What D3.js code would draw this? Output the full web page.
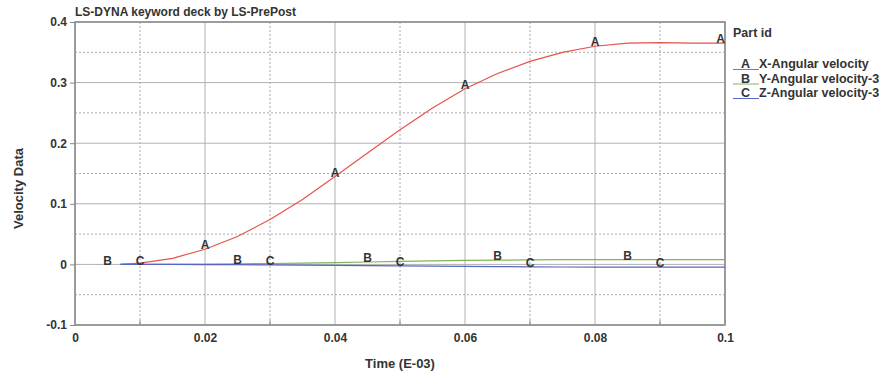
<!DOCTYPE html>
<html>
<head>
<meta charset="utf-8">
<script src="https://cdn.jsdelivr.net/npm/d3@7"></script>
<style>
  body { margin: 0; background: #fff; }
  text { font-family: "Liberation Sans", Arial, sans-serif; font-weight: bold; fill: #333; }
</style>
</head>
<body>
<div id="viz"></div>
<script>
// time (E-03) samples and series
const times = [0.007, 0.01, 0.015, 0.02, 0.025, 0.03, 0.035, 0.04, 0.045, 0.05,
               0.055, 0.06, 0.065, 0.07, 0.075, 0.08, 0.085, 0.09, 0.095, 0.1];
const seriesA = [0, 0.002, 0.01, 0.025, 0.046, 0.074, 0.107, 0.145, 0.184, 0.222,
                 0.258, 0.29, 0.315, 0.335, 0.35, 0.36, 0.365, 0.366, 0.365, 0.365];
const seriesB = [0, 0, 0.0002, 0.0005, 0.001, 0.0015, 0.002, 0.003, 0.004, 0.005,
                 0.0058, 0.0065, 0.007, 0.0075, 0.0078, 0.008, 0.008, 0.008, 0.008, 0.008];
const seriesC = [0, 0, -0.0001, -0.0003, -0.0005, -0.0008, -0.0011, -0.0015, -0.002, -0.0025,
                 -0.0028, -0.0032, -0.0036, -0.004, -0.0043, -0.0045, -0.0045, -0.0045, -0.0045, -0.0045];

const seriesNames = ['X-Angular velocity', 'Y-Angular velocity-3', 'Z-Angular velocity-3'];
const seriesIds = ['A', 'B', 'C'];
const seriesColors = ['#e5534b', '#7fb45a', '#5566c4'];
const labelTimes = [
  [0.02, 0.04, 0.06, 0.08, 0.1],
  [0.005, 0.025, 0.045, 0.065, 0.085],
  [0.01, 0.03, 0.05, 0.07, 0.09]
];

const xMajor = [0, 0.02, 0.04, 0.06, 0.08, 0.1];
const xMinor = [0.01, 0.03, 0.05, 0.07, 0.09];
const yMajor = [-0.1, 0, 0.1, 0.2, 0.3, 0.4];
const yMinor = [-0.05, 0.05, 0.15, 0.25, 0.35];

const width = 893, height = 379;
const margin = { left: 75, right: 168, top: 22, bottom: 54 };

const svg = d3.select('#viz').append('svg')
  .attr('width', width)
  .attr('height', height);

const x = d3.scaleLinear().domain([0, 0.1]).range([margin.left, width - margin.right]);
const y = d3.scaleLinear().domain([-0.1, 0.4]).range([height - margin.bottom, margin.top]);

const fmt = d => d === 0 ? '0' : d3.format('~g')(d).replace('\u2212', '-');

// minor grid (dotted)
svg.append('g').selectAll('line')
  .data(xMinor).join('line')
  .attr('x1', d => x(d)).attr('x2', d => x(d))
  .attr('y1', y(0.4)).attr('y2', y(-0.1))
  .attr('stroke', '#aaa').attr('stroke-dasharray', '2,2');

svg.append('g').selectAll('line')
  .data(yMinor).join('line')
  .attr('x1', x(0)).attr('x2', x(0.1))
  .attr('y1', d => y(d)).attr('y2', d => y(d))
  .attr('stroke', '#aaa').attr('stroke-dasharray', '2,2');

// major grid (solid)
svg.append('g').selectAll('line')
  .data(xMajor).join('line')
  .attr('x1', d => x(d)).attr('x2', d => x(d))
  .attr('y1', y(0.4)).attr('y2', y(-0.1))
  .attr('stroke', '#b0b0b0');

svg.append('g').selectAll('line')
  .data(yMajor).join('line')
  .attr('x1', x(0)).attr('x2', x(0.1))
  .attr('y1', d => y(d)).attr('y2', d => y(d))
  .attr('stroke', '#b0b0b0');

// frame
svg.append('rect')
  .attr('x', x(0)).attr('y', y(0.4))
  .attr('width', x(0.1) - x(0)).attr('height', y(-0.1) - y(0.4))
  .attr('fill', 'none').attr('stroke', '#888').attr('stroke-width', 1.5);

// axes
svg.append('g')
  .attr('transform', `translate(0,${y(-0.1)})`)
  .call(d3.axisBottom(x).tickValues(xMajor).tickSize(0).tickPadding(8).tickFormat(fmt))
  .call(g => g.select('.domain').remove())
  .call(g => g.selectAll('text').style('font-size', '12px').attr('fill', '#333'));

svg.append('g')
  .attr('transform', `translate(${x(0)},0)`)
  .call(d3.axisLeft(y).tickValues(yMajor).tickSize(5).tickPadding(3).tickFormat(fmt))
  .call(g => g.select('.domain').remove())
  .call(g => g.selectAll('line').attr('stroke', '#888'))
  .call(g => g.selectAll('text').style('font-size', '12px').attr('fill', '#333'));

// minor ticks on bottom
svg.append('g').selectAll('line')
  .data(xMinor).join('line')
  .attr('x1', d => x(d)).attr('x2', d => x(d))
  .attr('y1', y(-0.1) - 5).attr('y2', y(-0.1))
  .attr('stroke', '#888');

// titles
svg.append('text')
  .attr('x', x(0)).attr('y', 16)
  .style('font-size', '12px')
  .text('LS-DYNA keyword deck by LS-PrePost');

svg.append('text')
  .attr('x', (x(0) + x(0.1)) / 2).attr('y', 368)
  .attr('text-anchor', 'middle')
  .style('font-size', '13px')
  .text('Time (E-03)');

svg.append('text')
  .attr('transform', `translate(23,${(y(0.4) + y(-0.1)) / 2 + 15}) rotate(-90)`)
  .attr('text-anchor', 'middle')
  .style('font-size', '13px')
  .text('Velocity Data');

// curves
const allSeries = [seriesA, seriesB, seriesC];
const line = d3.line()
  .x((d, i) => x(times[i]))
  .y(d => y(d));

allSeries.forEach((s, k) => {
  svg.append('path')
    .datum(s)
    .attr('fill', 'none')
    .attr('stroke', seriesColors[k])
    .attr('stroke-width', 1.2)
    .attr('d', line);
});

// letter markers along curves
function valueAt(s, t) {
  if (t <= times[0]) return s[0];
  const i = d3.bisectLeft(times, t);
  if (i >= times.length) return s[s.length - 1];
  const t0 = times[i - 1], t1 = times[i];
  return s[i - 1] + (s[i] - s[i - 1]) * (t - t0) / (t1 - t0);
}

allSeries.forEach((s, k) => {
  svg.append('g').selectAll('text')
    .data(labelTimes[k]).join('text')
    .attr('x', d => x(d))
    .attr('y', d => y(valueAt(s, d)) - 3)
    .attr('text-anchor', d => d === 0.1 ? 'end' : 'middle')
    .attr('dominant-baseline', 'middle')
    .style('font-size', '12px')
    .text(seriesIds[k]);
});

// legend
const lx = 733;
svg.append('text')
  .attr('x', lx).attr('y', 37)
  .style('font-size', '12.5px')
  .text('Part id');

const legend = svg.append('g').selectAll('g')
  .data(seriesNames).join('g')
  .attr('transform', (d, i) => `translate(${lx},${68 + i * 14.5})`);

legend.append('line')
  .attr('x1', 0).attr('x2', 26)
  .attr('y1', 1.5).attr('y2', 1.5)
  .attr('stroke', (d, i) => seriesColors[i]);

legend.append('text')
  .attr('x', 8).attr('y', 0)
  .style('font-size', '12.5px')
  .text((d, i) => seriesIds[i]);

legend.append('text')
  .attr('x', 26).attr('y', 0)
  .style('font-size', '12.5px')
  .text(d => d);
</script>
</body>
</html>
